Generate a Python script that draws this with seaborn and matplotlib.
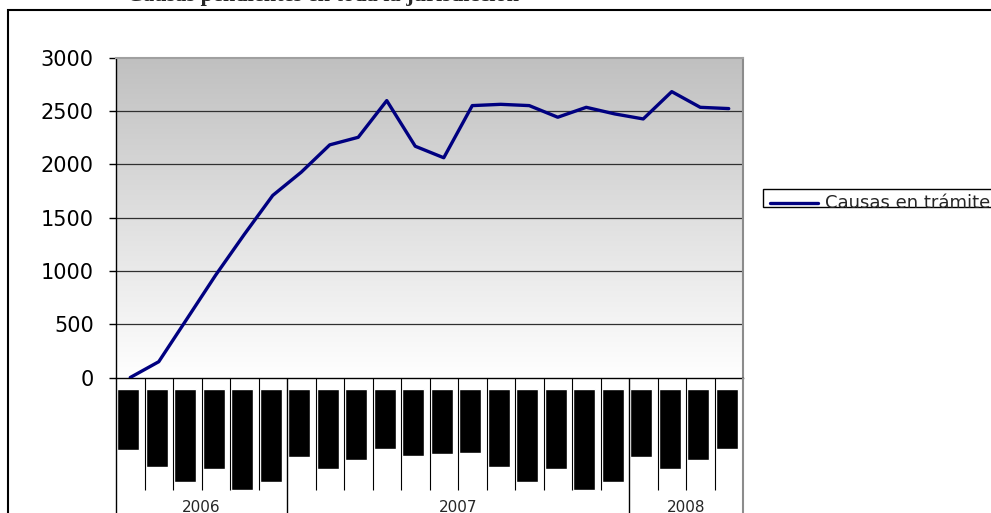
import numpy as np
import pandas as pd
import matplotlib
matplotlib.use("Agg")
import matplotlib.pyplot as plt
import seaborn as sns
from matplotlib.patches import Rectangle
from matplotlib.lines import Line2D
from matplotlib.colors import LinearSegmentedColormap

# Monthly series, July 2006 - April 2008
months = ["jul", "ago", "set", "oct", "nov", "dic", "ene", "feb", "mar", "abr", "may", "jun",
          "jul", "ago", "set", "oct", "nov", "dic", "ene", "feb", "mar", "abr"]
causas = [0, 148, 554, 961, 1341, 1707, 1925, 2181, 2252, 2596, 2168, 2060,
          2549, 2561, 2549, 2440, 2533, 2471, 2424, 2680, 2533, 2521]
# extent (px) of the filled month label blocks under the axis
label_extent = [61, 78, 93, 80, 101, 93, 68, 80, 71, 60, 67, 65,
                64, 78, 93, 80, 101, 93, 68, 80, 71, 60]
years = ["2006", "2007", "2008"]
year_counts = [6, 12, 4]
yticks = [0, 500, 1000, 1500, 2000, 2500, 3000]
series_name = "Causas en trámite"
title = "Causas pendientes en toda la jurisdicción"

sns.set_style("white")
plt.rcParams["font.family"] = ["DejaVu Sans"]

W, H = 991, 513
fig = plt.figure(figsize=(W / 100, H / 100), dpi=100)


def fx(px):
    return px / W


def fy(py):
    return 1 - py / H


x_left, x_right, y_top, y_zero = 116, 743, 57.5, 377.5
n = len(causas)

ax = fig.add_axes([fx(x_left), fy(y_zero), fx(x_right) - fx(x_left), fy(y_top) - fy(y_zero)])

# grey-to-white vertical gradient behind the plot
grad = np.linspace(0, 1, 256).reshape(-1, 1)
cmap = LinearSegmentedColormap.from_list("bg", ["#ffffff", "#c0c0c0"])
ax.imshow(grad, extent=(-0.5, n - 0.5, 0, 3000), origin="lower", aspect="auto",
          cmap=cmap, zorder=0)

for yv in yticks[1:-1]:
    ax.axhline(yv, color="#303030", lw=0.9, zorder=1)

df = pd.DataFrame({"pos": np.arange(n), "mes": months, series_name: causas})
sns.lineplot(data=df, x="pos", y=series_name, color="#000080", lw=2.4, ax=ax, zorder=3)

ax.set_xlim(-0.5, n - 0.5)
ax.set_ylim(0, 3000)
ax.set_xticks([])
ax.set_yticks(yticks)
ax.set_xlabel("")
ax.set_ylabel("")
ax.tick_params(axis="y", length=5, width=1, pad=11, labelsize=15, direction="out",
               left=True, colors="black")
ax.spines["top"].set_color("#a0a0a0")
ax.spines["top"].set_linewidth(1.5)
ax.spines["right"].set_color("#8c8c8c")
ax.spines["right"].set_linewidth(1.5)
ax.spines["left"].set_color("black")
ax.spines["left"].set_linewidth(1)
ax.spines["bottom"].set_color("black")
ax.spines["bottom"].set_linewidth(1)

# category axis area: month blocks, dividers and year groups
ax2 = fig.add_axes([fx(x_left), 0, fx(x_right) - fx(x_left), fy(y_zero)])
depth = H - y_zero
ax2.set_xlim(-0.5, n - 0.5)
ax2.set_ylim(depth, 0)
ax2.axis("off")
ax2.bar(np.arange(n) - 0.07, label_extent, width=0.78, bottom=11.5, color="black")

year_edges = np.concatenate([[0], np.cumsum(year_counts)])
for k in range(n + 1):
    b = k - 0.5
    if k in year_edges:
        col = "#8c8c8c" if k == n else "black"
        lw = 1.5 if k == n else 1.0
        ax2.vlines(b, 0, depth, color=col, lw=lw, clip_on=False)
    else:
        ax2.vlines(b, 0, 112.5, color="black", lw=0.8, clip_on=False)

for yr, a, b in zip(years, year_edges[:-1], year_edges[1:]):
    ax2.text((a + b) / 2 - 0.5, depth - 1.5, yr, ha="center", va="baseline", fontsize=11)

# chart border
fig.add_artist(Rectangle((fx(8), -0.05), 1.0, fy(10) + 0.05, transform=fig.transFigure,
                         fill=False, ec="black", lw=1.5))

# legend
fig.add_artist(Rectangle((fx(763), fy(207)), 0.3, 18 / H, transform=fig.transFigure,
                         fill=True, fc="white", ec="black", lw=1))
fig.add_artist(Line2D([fx(770), fx(818)], [fy(203), fy(203)], transform=fig.transFigure,
                      color="#000080", lw=2.4))
fig.text(fx(825), fy(207.5), series_name, fontsize=13, va="baseline", ha="left")

fig.text(fx(127), fy(0.5), title, family="Liberation Serif", fontweight="bold",
         fontsize=16, va="baseline", ha="left")

fig.savefig("out.png", dpi=100)
